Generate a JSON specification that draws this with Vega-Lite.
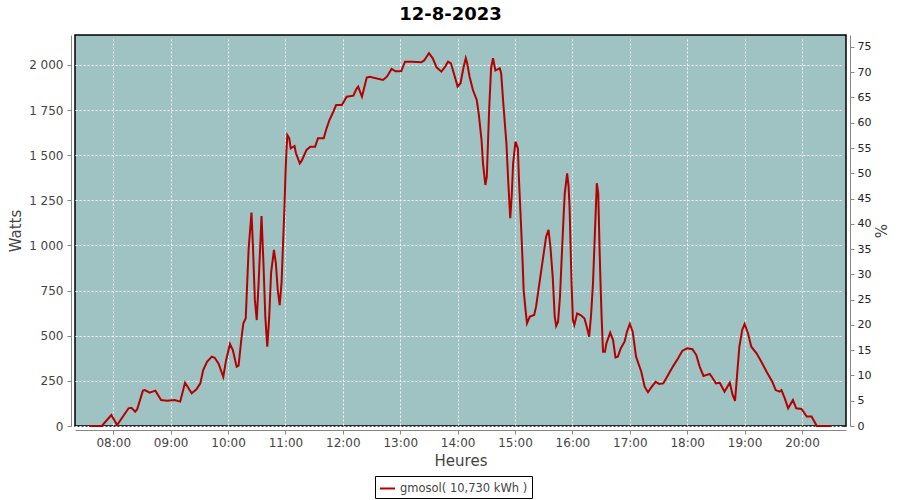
{
  "$schema": "https://vega.github.io/schema/vega-lite/v6.json",
  "autosize": "none",
  "width": 771,
  "height": 391,
  "padding": {"left": 75, "top": 35, "right": 54, "bottom": 74},
  "background": "white",
  "title": {"text": "12-8-2023", "fontSize": 18, "fontWeight": "bold", "font": "DejaVu Sans", "color": "black", "anchor": "middle", "dx": -10, "offset": 11},
  "config": {
    "locale": {"number": {"decimal": ",", "thousands": " ", "grouping": [3], "currency": ["", " €"]}},
    "view": {"fill": "#9ec3c2", "stroke": "black", "strokeWidth": 1.5},
    "axis": {"labelFont": "DejaVu Sans", "titleFont": "DejaVu Sans", "domainColor": "#888888", "tickColor": "#888888", "labelColor": "#444444", "titleColor": "#444444", "gridColor": "white", "gridDash": [2, 2], "gridWidth": 1, "gridOpacity": 1, "tickSize": 4, "labelFontSize": 12, "titleFontSize": 15, "titleFontWeight": "normal", "offset": 4}
  },
  "datasets": {
    "prod": [
    {"t": "2023-08-12T07:35:00", "W": 0},
    {"t": "2023-08-12T07:48:00", "W": 0},
    {"t": "2023-08-12T07:58:00", "W": 61},
    {"t": "2023-08-12T08:04:00", "W": 5},
    {"t": "2023-08-12T08:16:00", "W": 98},
    {"t": "2023-08-12T08:19:00", "W": 101},
    {"t": "2023-08-12T08:23:00", "W": 79},
    {"t": "2023-08-12T08:25:00", "W": 92},
    {"t": "2023-08-12T08:31:00", "W": 196},
    {"t": "2023-08-12T08:33:00", "W": 199},
    {"t": "2023-08-12T08:38:00", "W": 185},
    {"t": "2023-08-12T08:44:00", "W": 196},
    {"t": "2023-08-12T08:50:00", "W": 144},
    {"t": "2023-08-12T08:56:00", "W": 140},
    {"t": "2023-08-12T09:04:00", "W": 144},
    {"t": "2023-08-12T09:10:00", "W": 135},
    {"t": "2023-08-12T09:15:00", "W": 240},
    {"t": "2023-08-12T09:22:00", "W": 181},
    {"t": "2023-08-12T09:27:00", "W": 203},
    {"t": "2023-08-12T09:31:00", "W": 236},
    {"t": "2023-08-12T09:34:00", "W": 310},
    {"t": "2023-08-12T09:38:00", "W": 356},
    {"t": "2023-08-12T09:43:00", "W": 384},
    {"t": "2023-08-12T09:46:00", "W": 378},
    {"t": "2023-08-12T09:50:00", "W": 347},
    {"t": "2023-08-12T09:55:00", "W": 273},
    {"t": "2023-08-12T09:58:00", "W": 366},
    {"t": "2023-08-12T10:02:00", "W": 454},
    {"t": "2023-08-12T10:05:00", "W": 420},
    {"t": "2023-08-12T10:09:00", "W": 329},
    {"t": "2023-08-12T10:11:00", "W": 335},
    {"t": "2023-08-12T10:14:00", "W": 486},
    {"t": "2023-08-12T10:16:00", "W": 569},
    {"t": "2023-08-12T10:18:30", "W": 597},
    {"t": "2023-08-12T10:19:30", "W": 726},
    {"t": "2023-08-12T10:21:30", "W": 980},
    {"t": "2023-08-12T10:24:30", "W": 1182},
    {"t": "2023-08-12T10:26:00", "W": 1000},
    {"t": "2023-08-12T10:28:00", "W": 700},
    {"t": "2023-08-12T10:30:00", "W": 587},
    {"t": "2023-08-12T10:32:00", "W": 800},
    {"t": "2023-08-12T10:35:00", "W": 1163},
    {"t": "2023-08-12T10:37:00", "W": 900},
    {"t": "2023-08-12T10:39:00", "W": 600},
    {"t": "2023-08-12T10:41:00", "W": 439},
    {"t": "2023-08-12T10:43:00", "W": 600},
    {"t": "2023-08-12T10:45:00", "W": 850},
    {"t": "2023-08-12T10:48:00", "W": 975},
    {"t": "2023-08-12T10:50:00", "W": 900},
    {"t": "2023-08-12T10:52:00", "W": 750},
    {"t": "2023-08-12T10:54:00", "W": 670},
    {"t": "2023-08-12T10:56:00", "W": 800},
    {"t": "2023-08-12T10:57:30", "W": 1012},
    {"t": "2023-08-12T10:59:00", "W": 1215},
    {"t": "2023-08-12T11:00:00", "W": 1390},
    {"t": "2023-08-12T11:01:00", "W": 1520},
    {"t": "2023-08-12T11:02:00", "W": 1612},
    {"t": "2023-08-12T11:04:00", "W": 1594},
    {"t": "2023-08-12T11:05:30", "W": 1538},
    {"t": "2023-08-12T11:09:30", "W": 1551},
    {"t": "2023-08-12T11:11:00", "W": 1511},
    {"t": "2023-08-12T11:15:00", "W": 1455},
    {"t": "2023-08-12T11:17:00", "W": 1470},
    {"t": "2023-08-12T11:22:00", "W": 1529},
    {"t": "2023-08-12T11:26:00", "W": 1547},
    {"t": "2023-08-12T11:31:00", "W": 1547},
    {"t": "2023-08-12T11:34:00", "W": 1594},
    {"t": "2023-08-12T11:40:00", "W": 1594},
    {"t": "2023-08-12T11:43:00", "W": 1649},
    {"t": "2023-08-12T11:46:00", "W": 1695},
    {"t": "2023-08-12T11:50:00", "W": 1741},
    {"t": "2023-08-12T11:53:00", "W": 1778},
    {"t": "2023-08-12T11:59:00", "W": 1778},
    {"t": "2023-08-12T12:04:00", "W": 1824},
    {"t": "2023-08-12T12:11:00", "W": 1830},
    {"t": "2023-08-12T12:14:00", "W": 1865},
    {"t": "2023-08-12T12:16:00", "W": 1880},
    {"t": "2023-08-12T12:20:00", "W": 1824},
    {"t": "2023-08-12T12:25:00", "W": 1930},
    {"t": "2023-08-12T12:28:00", "W": 1935},
    {"t": "2023-08-12T12:42:00", "W": 1917},
    {"t": "2023-08-12T12:46:00", "W": 1935},
    {"t": "2023-08-12T12:51:00", "W": 1978},
    {"t": "2023-08-12T12:55:00", "W": 1965},
    {"t": "2023-08-12T13:01:00", "W": 1965},
    {"t": "2023-08-12T13:05:00", "W": 2018},
    {"t": "2023-08-12T13:12:00", "W": 2018},
    {"t": "2023-08-12T13:22:00", "W": 2015},
    {"t": "2023-08-12T13:25:00", "W": 2025},
    {"t": "2023-08-12T13:30:00", "W": 2065},
    {"t": "2023-08-12T13:34:00", "W": 2037},
    {"t": "2023-08-12T13:38:00", "W": 1987},
    {"t": "2023-08-12T13:43:00", "W": 1963},
    {"t": "2023-08-12T13:47:00", "W": 1991},
    {"t": "2023-08-12T13:50:00", "W": 2018},
    {"t": "2023-08-12T13:53:00", "W": 2009},
    {"t": "2023-08-12T13:56:00", "W": 1954},
    {"t": "2023-08-12T14:00:00", "W": 1880},
    {"t": "2023-08-12T14:03:00", "W": 1899},
    {"t": "2023-08-12T14:06:00", "W": 1982},
    {"t": "2023-08-12T14:08:30", "W": 2037},
    {"t": "2023-08-12T14:10:00", "W": 2009},
    {"t": "2023-08-12T14:12:30", "W": 1935},
    {"t": "2023-08-12T14:16:00", "W": 1861},
    {"t": "2023-08-12T14:20:00", "W": 1806},
    {"t": "2023-08-12T14:22:00", "W": 1732},
    {"t": "2023-08-12T14:25:00", "W": 1584},
    {"t": "2023-08-12T14:26:30", "W": 1455},
    {"t": "2023-08-12T14:29:00", "W": 1335},
    {"t": "2023-08-12T14:30:30", "W": 1381},
    {"t": "2023-08-12T14:33:00", "W": 1760},
    {"t": "2023-08-12T14:35:00", "W": 1982},
    {"t": "2023-08-12T14:37:00", "W": 2037},
    {"t": "2023-08-12T14:39:30", "W": 1969},
    {"t": "2023-08-12T14:44:00", "W": 1982},
    {"t": "2023-08-12T14:45:30", "W": 1954},
    {"t": "2023-08-12T14:48:00", "W": 1769},
    {"t": "2023-08-12T14:51:00", "W": 1566},
    {"t": "2023-08-12T14:53:00", "W": 1345},
    {"t": "2023-08-12T14:55:00", "W": 1151},
    {"t": "2023-08-12T14:56:30", "W": 1270},
    {"t": "2023-08-12T14:58:00", "W": 1455},
    {"t": "2023-08-12T15:00:30", "W": 1575},
    {"t": "2023-08-12T15:03:00", "W": 1538},
    {"t": "2023-08-12T15:04:00", "W": 1381},
    {"t": "2023-08-12T15:06:30", "W": 1086},
    {"t": "2023-08-12T15:08:00", "W": 901},
    {"t": "2023-08-12T15:09:00", "W": 753},
    {"t": "2023-08-12T15:11:00", "W": 643},
    {"t": "2023-08-12T15:12:30", "W": 569},
    {"t": "2023-08-12T15:15:30", "W": 606},
    {"t": "2023-08-12T15:20:00", "W": 615},
    {"t": "2023-08-12T15:22:00", "W": 661},
    {"t": "2023-08-12T15:26:00", "W": 809},
    {"t": "2023-08-12T15:29:30", "W": 938},
    {"t": "2023-08-12T15:32:30", "W": 1049},
    {"t": "2023-08-12T15:35:00", "W": 1086},
    {"t": "2023-08-12T15:37:00", "W": 993},
    {"t": "2023-08-12T15:39:30", "W": 818},
    {"t": "2023-08-12T15:41:30", "W": 606},
    {"t": "2023-08-12T15:43:00", "W": 554},
    {"t": "2023-08-12T15:45:00", "W": 578},
    {"t": "2023-08-12T15:47:00", "W": 716},
    {"t": "2023-08-12T15:49:00", "W": 957},
    {"t": "2023-08-12T15:51:00", "W": 1187},
    {"t": "2023-08-12T15:52:00", "W": 1289},
    {"t": "2023-08-12T15:54:30", "W": 1400},
    {"t": "2023-08-12T15:56:00", "W": 1326},
    {"t": "2023-08-12T15:57:00", "W": 1215},
    {"t": "2023-08-12T15:59:00", "W": 809},
    {"t": "2023-08-12T16:00:30", "W": 587},
    {"t": "2023-08-12T16:02:00", "W": 560},
    {"t": "2023-08-12T16:05:00", "W": 624},
    {"t": "2023-08-12T16:08:30", "W": 615},
    {"t": "2023-08-12T16:12:30", "W": 597},
    {"t": "2023-08-12T16:15:00", "W": 550},
    {"t": "2023-08-12T16:17:30", "W": 495},
    {"t": "2023-08-12T16:19:30", "W": 615},
    {"t": "2023-08-12T16:21:30", "W": 790},
    {"t": "2023-08-12T16:23:30", "W": 1068},
    {"t": "2023-08-12T16:25:30", "W": 1345},
    {"t": "2023-08-12T16:27:00", "W": 1289},
    {"t": "2023-08-12T16:28:30", "W": 957},
    {"t": "2023-08-12T16:29:30", "W": 772},
    {"t": "2023-08-12T16:30:30", "W": 606},
    {"t": "2023-08-12T16:32:00", "W": 412},
    {"t": "2023-08-12T16:34:00", "W": 412},
    {"t": "2023-08-12T16:35:30", "W": 458},
    {"t": "2023-08-12T16:39:30", "W": 517},
    {"t": "2023-08-12T16:42:30", "W": 476},
    {"t": "2023-08-12T16:45:00", "W": 380},
    {"t": "2023-08-12T16:47:30", "W": 384},
    {"t": "2023-08-12T16:50:30", "W": 430},
    {"t": "2023-08-12T16:54:30", "W": 467},
    {"t": "2023-08-12T16:57:00", "W": 522},
    {"t": "2023-08-12T17:00:00", "W": 565},
    {"t": "2023-08-12T17:03:00", "W": 522},
    {"t": "2023-08-12T17:06:30", "W": 384},
    {"t": "2023-08-12T17:12:00", "W": 301},
    {"t": "2023-08-12T17:15:30", "W": 218},
    {"t": "2023-08-12T17:19:00", "W": 187},
    {"t": "2023-08-12T17:23:00", "W": 218},
    {"t": "2023-08-12T17:27:00", "W": 245},
    {"t": "2023-08-12T17:30:30", "W": 233},
    {"t": "2023-08-12T17:35:00", "W": 236},
    {"t": "2023-08-12T17:40:00", "W": 283},
    {"t": "2023-08-12T17:45:00", "W": 329},
    {"t": "2023-08-12T17:50:30", "W": 375},
    {"t": "2023-08-12T17:55:00", "W": 417},
    {"t": "2023-08-12T18:00:00", "W": 430},
    {"t": "2023-08-12T18:05:30", "W": 425},
    {"t": "2023-08-12T18:09:30", "W": 393},
    {"t": "2023-08-12T18:13:00", "W": 329},
    {"t": "2023-08-12T18:17:00", "W": 277},
    {"t": "2023-08-12T18:20:30", "W": 283},
    {"t": "2023-08-12T18:23:30", "W": 288},
    {"t": "2023-08-12T18:26:00", "W": 270},
    {"t": "2023-08-12T18:30:00", "W": 236},
    {"t": "2023-08-12T18:34:00", "W": 240},
    {"t": "2023-08-12T18:39:00", "W": 190},
    {"t": "2023-08-12T18:44:30", "W": 240},
    {"t": "2023-08-12T18:47:30", "W": 172},
    {"t": "2023-08-12T18:50:00", "W": 139},
    {"t": "2023-08-12T18:52:00", "W": 273},
    {"t": "2023-08-12T18:54:30", "W": 439},
    {"t": "2023-08-12T18:57:30", "W": 532},
    {"t": "2023-08-12T19:00:00", "W": 565},
    {"t": "2023-08-12T19:03:30", "W": 514},
    {"t": "2023-08-12T19:07:00", "W": 439},
    {"t": "2023-08-12T19:12:30", "W": 403},
    {"t": "2023-08-12T19:17:30", "W": 356},
    {"t": "2023-08-12T19:23:00", "W": 301},
    {"t": "2023-08-12T19:29:00", "W": 245},
    {"t": "2023-08-12T19:32:30", "W": 199},
    {"t": "2023-08-12T19:36:30", "W": 190},
    {"t": "2023-08-12T19:38:30", "W": 199},
    {"t": "2023-08-12T19:42:00", "W": 153},
    {"t": "2023-08-12T19:45:30", "W": 98},
    {"t": "2023-08-12T19:50:30", "W": 144},
    {"t": "2023-08-12T19:54:00", "W": 98},
    {"t": "2023-08-12T19:59:30", "W": 94},
    {"t": "2023-08-12T20:05:00", "W": 52},
    {"t": "2023-08-12T20:10:00", "W": 52},
    {"t": "2023-08-12T20:15:30", "W": 0},
    {"t": "2023-08-12T20:31:00", "W": 0}
    ],
    "pctscale": [{"p": 0}, {"p": 75}]
  },
  "layer": [
    {
      "data": {"name": "prod"},
      "mark": {"type": "line", "strokeWidth": 2},
      "encoding": {
        "x": {"field": "t", "type": "temporal", "title": "Heures",
          "scale": {"domain": [{"year": 2023, "month": 8, "date": 12, "hours": 7, "minutes": 20}, {"year": 2023, "month": 8, "date": 12, "hours": 20, "minutes": 46}], "nice": false},
          "axis": {"format": "%H:%M", "values": [
            {"year": 2023, "month": 8, "date": 12, "hours": 8},
            {"year": 2023, "month": 8, "date": 12, "hours": 9},
            {"year": 2023, "month": 8, "date": 12, "hours": 10},
            {"year": 2023, "month": 8, "date": 12, "hours": 11},
            {"year": 2023, "month": 8, "date": 12, "hours": 12},
            {"year": 2023, "month": 8, "date": 12, "hours": 13},
            {"year": 2023, "month": 8, "date": 12, "hours": 14},
            {"year": 2023, "month": 8, "date": 12, "hours": 15},
            {"year": 2023, "month": 8, "date": 12, "hours": 16},
            {"year": 2023, "month": 8, "date": 12, "hours": 17},
            {"year": 2023, "month": 8, "date": 12, "hours": 18},
            {"year": 2023, "month": 8, "date": 12, "hours": 19},
            {"year": 2023, "month": 8, "date": 12, "hours": 20}
          ], "labelFlush": false, "labelOverlap": false, "labelPadding": 3, "titlePadding": 5, "grid": true}},
        "y": {"field": "W", "type": "quantitative", "title": "Watts",
          "scale": {"domain": [0, 2166], "nice": false},
          "axis": {"values": [0, 250, 500, 750, 1000, 1250, 1500, 1750, 2000], "format": ",d", "grid": true, "labelPadding": 4, "titlePadding": 5}},
        "color": {"datum": "gmosol( 10,730 kWh )", "type": "nominal",
          "scale": {"range": ["#b40000"]},
          "legend": {"title": null, "orient": "none", "legendX": 300, "legendY": 441, "direction": "horizontal", "strokeColor": "black", "padding": 4, "symbolType": "stroke", "symbolSize": 225, "symbolStrokeWidth": 2, "symbolOffset": 0, "labelOffset": 4, "labelFont": "DejaVu Sans", "labelFontSize": 11.5, "labelColor": "#444444"}}
      }
    },
    {
      "data": {"name": "pctscale"},
      "mark": {"type": "point", "opacity": 0},
      "encoding": {
        "y": {"field": "p", "type": "quantitative", "title": "%",
          "scale": {"domain": [0, 77.36], "nice": false},
          "axis": {"orient": "right", "values": [0, 5, 10, 15, 20, 25, 30, 35, 40, 45, 50, 55, 60, 65, 70, 75], "grid": false, "labelColor": "#222222", "labelFontSize": 11, "labelPadding": 3, "titlePadding": 1}}
      }
    }
  ],
  "resolve": {"scale": {"y": "independent"}}
}
